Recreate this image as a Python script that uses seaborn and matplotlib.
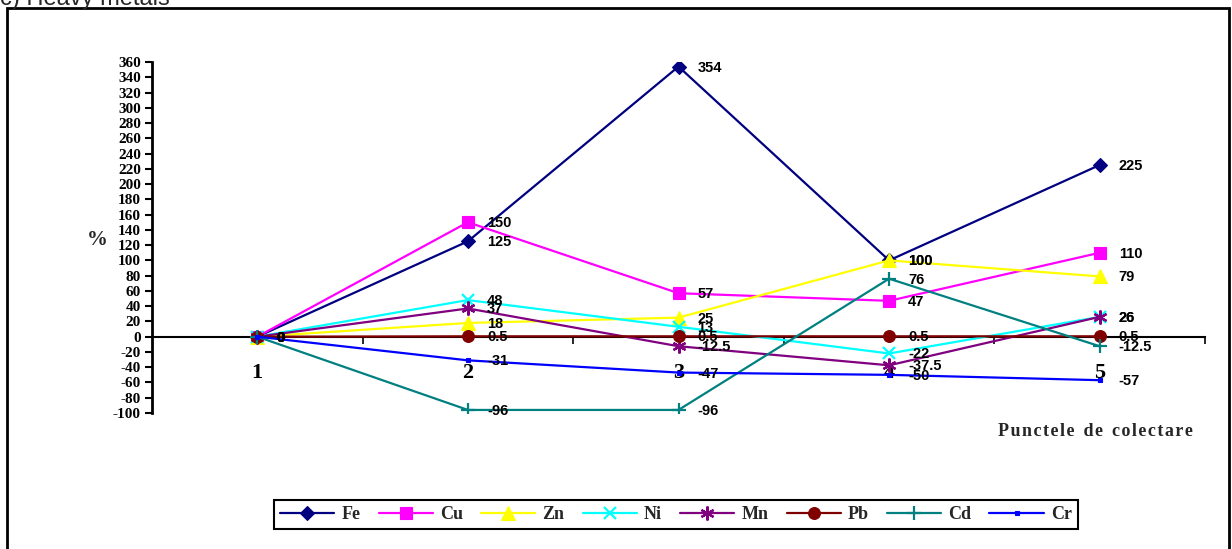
import matplotlib
matplotlib.use("Agg")
import matplotlib.pyplot as plt
from matplotlib.patches import Rectangle
import seaborn as sns
import pandas as pd

# Collection points and relative change (%) for each heavy metal
points = [1, 2, 3, 4, 5]
fe = [0, 125, 354, 100, 225]
cu = [0, 150, 57, 47, 110]
zn = [0, 18, 25, 100, 79]
ni = [0, 48, 13, -22, 26]
mn = [0, 37, -12.5, -37.5, 26]
pb = [0, 0.5, 0.5, 0.5, 0.5]
cd = [0, -96, -96, 76, -12.5]
cr = [0, -31, -47, -50, -57]

metals = ["Fe", "Cu", "Zn", "Ni", "Mn", "Pb", "Cd", "Cr"]
series = [fe, cu, zn, ni, mn, pb, cd, cr]
y_ticks = list(range(-100, 361, 20))

colors = ["#000080", "#FF00FF", "#FFFF00", "#00FFFF", "#800080", "#800000", "#008080", "#0000FF"]
markers = ["D", "s", "^", "x", (6, 2, 0), "o", "+", "s"]
msizes = [7, 8.5, 9.5, 9, 10, 8.5, 10, 3]

rows = []
for m, vals in zip(metals, series):
    for p, v in zip(points, vals):
        rows.append({"point": p, "value": v, "metal": m})
df = pd.DataFrame(rows)

sns.set_theme(style="white")
serif = ["Liberation Serif", "DejaVu Serif"]
sans = ["Liberation Sans", "DejaVu Sans"]

fig = plt.figure(figsize=(12.32, 5.49), dpi=100)
ax = fig.add_axes([152 / 1232, 1 - 413 / 549, (1205 - 152) / 1232, (413 - 62) / 549])

# Axis frame: only the left spine and a horizontal axis through zero
for s in ["top", "right"]:
    ax.spines[s].set_visible(False)
ax.spines["bottom"].set_position(("data", 0))
ax.spines["bottom"].set_color("black")
ax.spines["bottom"].set_linewidth(1.5)
ax.spines["bottom"].set_zorder(1)
ax.spines["left"].set_color("black")
ax.spines["left"].set_linewidth(2)

for m, c, mk, ms in zip(metals, colors, markers, msizes):
    sub = df[df["metal"] == m]
    sns.lineplot(data=sub, x="point", y="value", ax=ax, color=c, marker=mk,
                 markersize=ms, markeredgecolor=c,
                 markeredgewidth=1.6 if mk in ("x", "+", (6, 2, 0)) else 0.8,
                 linewidth=1.6, label=m, legend=False, zorder=3)
    for p, v in zip(sub["point"], sub["value"]):
        ax.annotate(f"{v:g}", (p, v), xytext=(19, -1), textcoords="offset pixels",
                    ha="left", va="center", fontsize=10.5, fontweight="bold",
                    family=sans, color="black", zorder=5)

ax.set_xlim(0.5, 5.5)
ax.set_ylim(-100, 360)
ax.set_yticks(y_ticks)
ax.set_yticklabels([str(t) for t in y_ticks], fontsize=11, fontweight="bold", family=serif)
ax.set_xticks(points)
ax.set_xticklabels([str(p) for p in points], fontsize=16, fontweight="bold", family=serif)
ax.set_xticks([1.5, 2.5, 3.5, 4.5, 5.5], minor=True)
ax.tick_params(axis="x", which="major", bottom=True, length=0, pad=19, colors="black")
ax.tick_params(axis="x", which="minor", bottom=True, length=5, width=1.2,
               direction="out", color="black")
ax.tick_params(axis="y", which="major", left=True, length=5, width=1.5,
               direction="out", colors="black", pad=3)
ax.set_xlabel("")
ax.set_ylabel("")
ax.patch.set_alpha(0)

fig.text(97 / 1232, 1 - 240 / 549, "%", fontsize=15, fontweight="bold", family=serif,
         ha="center", va="center")
spaced = "  ".join("\u200a".join(w) for w in "Punctele de colectare".split())
fig.text(1095 / 1232, 1 - 432 / 549, spaced, fontsize=13, fontweight="bold",
         family=serif, ha="center", va="center")

fig.text(0 / 1232, 1 - 5 / 549, "c) Heavy metals", fontsize=17, family=sans,
         ha="left", va="baseline")

fig.patches.append(Rectangle((7 / 1232, -0.05), (1229 - 7) / 1232, 1.05 - 8 / 549,
                             transform=fig.transFigure, fill=False, edgecolor="black",
                             linewidth=2))

h, l = ax.get_legend_handles_labels()
leg = fig.legend(h, l, loc="center", bbox_to_anchor=(676 / 1232, 1 - 514.5 / 549), ncol=8,
                 frameon=True, fancybox=False, edgecolor="black", framealpha=1,
                 prop={"family": serif, "weight": "bold", "size": 13},
                 handlelength=3.0, handletextpad=0.4, columnspacing=1.0, borderpad=0.35)
leg.get_frame().set_linewidth(1.5)

fig.savefig("out.png", dpi=100)
